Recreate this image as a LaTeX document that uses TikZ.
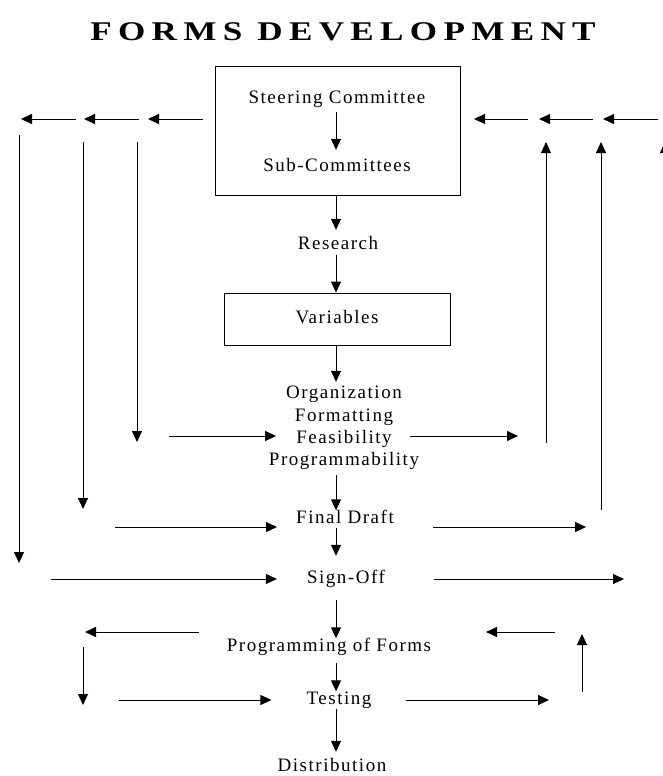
\documentclass[tikz,border=0pt]{standalone}
\usepackage{fontspec}
\setmainfont{Liberation Serif}
\newfontfamily\spacedfont{Liberation Serif}[LetterSpace=8]
\newfontfamily\titlefont{Liberation Serif}[LetterSpace=18]
\usetikzlibrary{arrows.meta}

\begin{document}
\begin{tikzpicture}[
x=1pt, y=-1pt,
stage/.style={inner sep=0pt, text height=13pt, text depth=4pt, font={\spacedfont\fontsize{19}{22}\selectfont}},
boxed/.style={rectangle, draw, line width=1pt},
flow/.style={-{Triangle[length=11pt,width=10pt]}, line width=1pt},
]
\useasboundingbox (0,0) rectangle (662,776);

%Title
\node[anchor=base, xscale=1.3, transform shape, font={\titlefont\bfseries\fontsize{27}{32}\selectfont}] (title) at (343,41) {FORMS DEVELOPMENT};

%Nodes
\coordinate (axis) at (336,0);
\node[boxed, minimum width=245pt, minimum height=128pt] (topbox) at (337.5,131) {};
\node[stage] (steer) at (337,99) {Steering Committee};
\node[stage] (sub) at (337,167) {Sub-Committees};
\node[stage] (research) at (338,245) {Research};
\node[stage, boxed, minimum width=226pt, minimum height=52pt] (vars) at (337,319) {Variables};
\node[stage] (org) at (344,394) {Organization};
\node[stage] (fmt) at (344,417) {Formatting};
\node[stage] (feas) at (344,439) {Feasibility};
\node[stage] (prog) at (344,461) {Programmability};
\node[stage] (final) at (345,519) {Final Draft};
\node[stage] (sign) at (346,579) {Sign-Off};
\node[stage] (forms) at (329,647) {Programming of Forms};
\node[stage] (test) at (339,700) {Testing};
\node[stage] (dist) at (332,767) {Distribution};

%Main flow
\draw[flow, shorten <=4.5pt, shorten >=8.5pt] (steer.south -| axis) -- (sub.north -| axis);
\draw[flow, shorten >=6.5pt] (topbox.south -| axis) -- (research.north -| axis);
\draw[flow, shorten <=1.5pt] (research.south -| axis) -- (vars.north -| axis);
\draw[flow, shorten >=3.5pt] (vars.south -| axis) -- (org.north -| axis);
\draw[flow, shorten <=5.5pt] (prog.south -| axis) -- (final.north -| axis);
\draw[flow, shorten >=14.5pt] (final.south -| axis) -- (sign.north -| axis);
\draw[flow, shorten <=12.5pt] (sign.south -| axis) -- (forms.north -| axis);
\draw[flow, shorten <=7.5pt] (forms.south -| axis) -- (test.north -| axis);
\draw[flow, shorten >=6.5pt] (test.south -| axis) -- (dist.north -| axis);

%Back arrows along the top
\foreach \xa/\xb [count=\i] in {203/148, 139/84, 76/21, 528/474, 593/539, 658/603} {
  \coordinate (topa\i) at (\xa,119);
  \coordinate (topb\i) at (\xb,119);
  \draw[flow] (topa\i) -- (topb\i);
}

%Left lanes
\coordinate (lanea) at (19,135);
\coordinate (laneb) at (83,142);
\coordinate (lanec) at (137,142);
\coordinate (enda) at (19,563);
\coordinate (endb) at (83,509);
\coordinate (endc) at (137,442);
\draw[flow] (lanea) -- (enda);
\draw[flow] (laneb) -- (endb);
\draw[flow] (lanec) -- (endc);

%Right lanes
\coordinate (risea) at (546,443);
\coordinate (riseb) at (601,510);
\coordinate (risec) at (665,565);
\coordinate (topra) at (546,142);
\coordinate (toprb) at (601,142);
\coordinate (toprc) at (665,142);
\draw[flow] (risea) -- (topra);
\draw[flow] (riseb) -- (toprb);
\draw[flow] (risec) -- (toprc);

%Arrows into and out of the stages
\coordinate (infeas) at (169,436);
\coordinate (infinal) at (115,527);
\coordinate (insign) at (51,579);
\coordinate (intest) at (119,700);
\coordinate (outfeas) at (518,436);
\coordinate (outfinal) at (586,527);
\coordinate (outsign) at (624,579);
\coordinate (outtest) at (549,700);
\draw[flow, shorten >=20pt] (infeas) -- (feas.west |- infeas);
\draw[flow, shorten >=19pt] (infinal) -- (final.west |- infinal);
\draw[flow, shorten >=30pt] (insign) -- (sign.west |- insign);
\draw[flow, shorten >=35pt] (intest) -- (test.west |- intest);
\draw[flow, shorten <=18pt] (feas.east |- outfeas) -- (outfeas);
\draw[flow, shorten <=39pt] (final.east |- outfinal) -- (outfinal);
\draw[flow, shorten <=49pt] (sign.east |- outsign) -- (outsign);
\draw[flow, shorten <=34pt] (test.east |- outtest) -- (outtest);

%Testing loop
\coordinate (loopa) at (199,632);
\coordinate (loopb) at (85,632);
\coordinate (loopc) at (83,647);
\coordinate (loopd) at (83,705);
\coordinate (loope) at (582,692);
\coordinate (loopf) at (582,634);
\coordinate (loopg) at (555,632);
\coordinate (looph) at (486,632);
\draw[flow] (loopa) -- (loopb);
\draw[flow] (loopc) -- (loopd);
\draw[flow] (loope) -- (loopf);
\draw[flow] (loopg) -- (looph);
\end{tikzpicture}
\end{document}
